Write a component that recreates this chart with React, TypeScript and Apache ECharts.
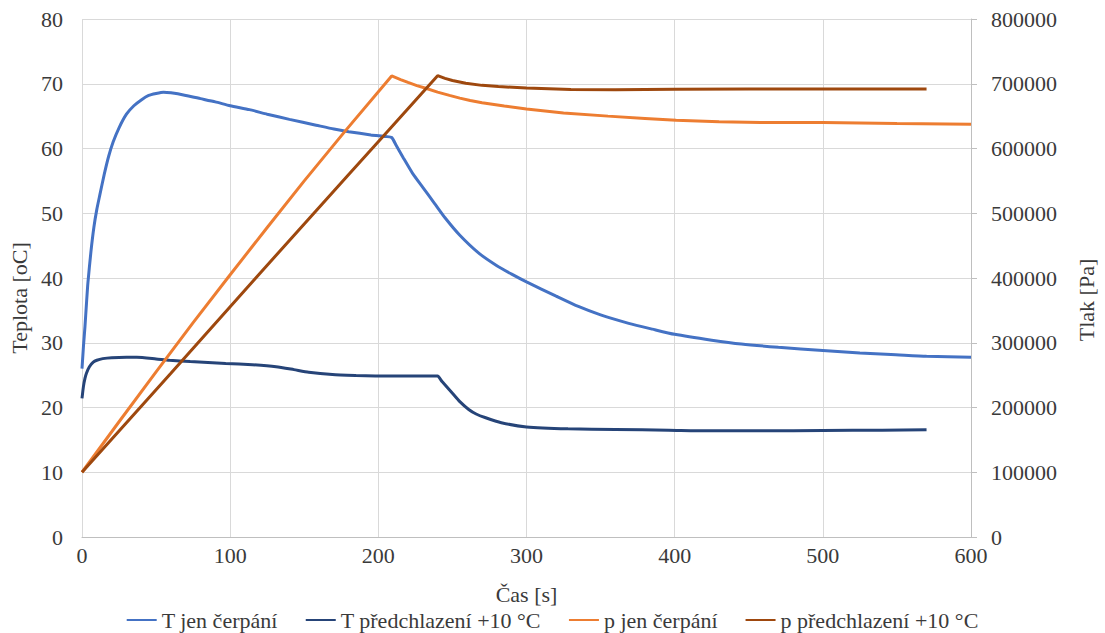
import React, { useEffect, useRef } from "react";
import * as echarts from "echarts";

const xTicks = [0, 100, 200, 300, 400, 500, 600];
const tempTicks = [0, 10, 20, 30, 40, 50, 60, 70, 80];
const presTicks = [0, 100000, 200000, 300000, 400000, 500000, 600000, 700000, 800000];

const seriesNames = [
  "T jen čerpání",
  "T předchlazení +10 °C",
  "p jen čerpání",
  "p předchlazení +10 °C",
];

// T jen čerpání
const tTA = [0, 1, 2, 3, 4, 6, 8, 10, 12, 15, 18, 21, 25, 30, 35, 40, 45, 50, 55, 60, 70, 80, 90, 100, 113, 125, 140, 158, 170, 180, 195, 205, 209, 212, 217, 223, 230, 238, 245, 255, 268, 280, 290, 300, 320, 335, 350, 369, 385, 400, 425, 445, 470, 500, 525, 546, 570, 600];
const valTA = [26.0, 29.5, 32.5, 36.0, 39.3, 44.0, 47.8, 50.6, 52.8, 56.0, 58.8, 61.0, 63.2, 65.3, 66.6, 67.5, 68.2, 68.5, 68.7, 68.6, 68.2, 67.7, 67.2, 66.6, 66.0, 65.3, 64.5, 63.6, 63.0, 62.6, 62.1, 61.85, 61.7, 60.5, 58.5, 56.2, 54.0, 51.5, 49.3, 46.6, 43.8, 41.9, 40.6, 39.4, 37.2, 35.6, 34.3, 33.0, 32.1, 31.3, 30.4, 29.8, 29.3, 28.8, 28.4, 28.2, 27.9, 27.75];

// T předchlazení +10 °C
const tTB = [0, 1, 2, 3, 5, 7.6, 10, 14, 20, 30, 37, 50, 59, 73, 97, 115, 131, 143, 153, 169, 185, 198, 220, 237, 240, 243, 250, 255, 261, 266, 272, 283, 300, 328, 360, 396, 422, 460, 500, 540, 570];
const valTB = [21.4, 23.3, 24.5, 25.3, 26.3, 27.0, 27.3, 27.55, 27.7, 27.75, 27.75, 27.5, 27.3, 27.1, 26.8, 26.6, 26.3, 25.85, 25.45, 25.1, 24.95, 24.87, 24.85, 24.85, 24.85, 24.0, 22.2, 20.9, 19.7, 19.0, 18.45, 17.65, 17.0, 16.7, 16.6, 16.5, 16.4, 16.4, 16.45, 16.5, 16.55];

// p jen čerpání
const tPA = [0, 25, 50, 75, 100, 125, 150, 178, 209, 215, 220, 226, 232, 240, 248, 255, 262, 270, 285, 300, 325, 355, 380, 401, 430, 458, 500, 550, 600];
const valPA = [100000, 178000, 255000, 331000, 405000, 478000, 550000, 628000, 712000, 706500, 702000, 697200, 693000, 687000, 682000, 677800, 674200, 670800, 665500, 661000, 655000, 650000, 646500, 643500, 641500, 640000, 640000, 638500, 637500];

// p předchlazení +10 °C
const tPB = [0, 60, 120, 180, 203, 240, 245, 250, 259, 270, 281, 300, 330, 360, 400, 450, 500, 570];
const valPB = [100000, 253000, 407000, 560000, 618000, 712500, 708300, 705000, 700700, 697500, 695800, 693300, 691000, 690800, 691500, 692000, 692000, 692000];

const colors = ["#4472C4", "#264478", "#ED7D31", "#9E480E"];

const zip = (t: number[], v: number[]) => t.map((x, i) => [x, v[i]]);

const FONT = "Liberation Serif";
const TEXT = "#3a3a3a";

export default function App() {
  const ref = useRef<HTMLDivElement>(null);
  useEffect(() => {
    if (!ref.current) return;
    const chart = echarts.init(ref.current, undefined, { renderer: "svg" });
    const data = [zip(tTA, valTA), zip(tTB, valTB), zip(tPA, valPA), zip(tPB, valPB)];
    chart.setOption({
      animation: false,
      backgroundColor: "#ffffff",
      grid: { left: 82, right: 131, top: 19, bottom: 96 },
      legend: {
        top: 604,
        left: "center",
        icon: "rect",
        itemWidth: 30,
        itemHeight: 2,
        itemGap: 28,
        textStyle: { fontFamily: FONT, fontSize: 22, color: TEXT },
        data: seriesNames,
      },
      xAxis: {
        type: "value",
        min: xTicks[0],
        max: xTicks[xTicks.length - 1],
        interval: 100,
        name: "Čas [s]",
        nameLocation: "middle",
        nameGap: 46,
        nameTextStyle: { fontFamily: FONT, fontSize: 22, color: TEXT },
        axisLine: { show: true, lineStyle: { color: "#BFBFBF", width: 1 } },
        axisTick: { show: false },
        axisLabel: { fontFamily: FONT, fontSize: 22, color: TEXT, margin: 7 },
        splitLine: { show: true, lineStyle: { color: "#D9D9D9", width: 1 } },
      },
      yAxis: [
        {
          type: "value",
          min: tempTicks[0],
          max: tempTicks[tempTicks.length - 1],
          interval: 10,
          name: "Teplota [oC]",
          nameLocation: "middle",
          nameRotate: 90,
          nameGap: 48,
          nameTextStyle: { fontFamily: FONT, fontSize: 22, color: TEXT, padding: [0, 40, 0, 0] },
          axisLine: { show: false },
          axisTick: { show: false },
          axisLabel: { fontFamily: FONT, fontSize: 22, color: TEXT, margin: 19 },
          splitLine: { show: true, lineStyle: { color: "#D9D9D9", width: 1 } },
        },
        {
          type: "value",
          min: presTicks[0],
          max: presTicks[presTicks.length - 1],
          interval: 100000,
          name: "Tlak [Pa]",
          nameLocation: "middle",
          nameRotate: 90,
          nameGap: 104,
          nameTextStyle: { fontFamily: FONT, fontSize: 22, color: TEXT, padding: [0, 44, 0, 0] },
          axisLine: { show: true, lineStyle: { color: "#BFBFBF", width: 1 } },
          axisTick: { show: true, inside: false, length: 6, lineStyle: { color: "#BFBFBF" } },
          axisLabel: {
            fontFamily: FONT,
            fontSize: 22,
            color: TEXT,
            margin: 20,
            formatter: (v: number) => String(v),
          },
          splitLine: { show: false },
        },
      ],
      series: seriesNames.map((name, i) => ({
        name,
        type: "line",
        yAxisIndex: i < 2 ? 0 : 1,
        data: data[i],
        showSymbol: false,
        symbol: "none",
        smooth: i < 2 ? 0.2 : false,
        lineStyle: { color: colors[i], width: 3 },
        itemStyle: { color: colors[i] },
      })),
    });
    return () => chart.dispose();
  }, []);
  return <div ref={ref} style={{ position: "fixed", left: 0, top: 0, width: 1105, height: 633 }} />;
}
